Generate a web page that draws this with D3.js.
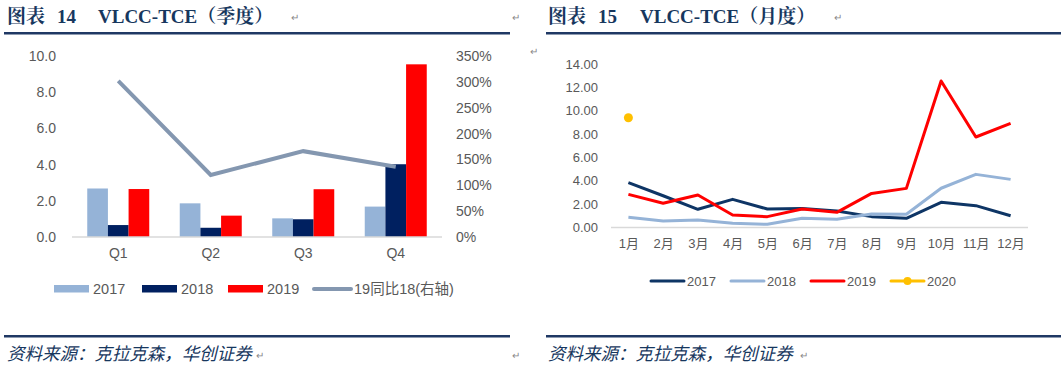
<!DOCTYPE html>
<html><head><meta charset="utf-8">
<script src="https://cdn.jsdelivr.net/npm/d3@7/dist/d3.min.js"></script>
<style>body{margin:0;background:#fff}svg{display:block}</style>
</head><body>
<svg id="c" width="1061" height="369"></svg>
<script>
// ---- Left chart data (quarterly) ----
const quarters = ["Q1","Q2","Q3","Q4"];
const q2017 = [2.68, 1.86, 1.03, 1.68];
const q2018 = [0.66, 0.51, 0.98, 4.02];
const q2019 = [2.65, 1.18, 2.64, 9.54];
const qYoY = [302, 120, 166, 136]; // % right axis
const leftTicks = [0,2,4,6,8,10];
const rightTicks = [0,50,100,150,200,250,300,350];
// ---- Right chart data (monthly) ----
const months = ["1月","2月","3月","4月","5月","6月","7月","8月","9月","10月","11月","12月"];
const m2017 = [3.84, 2.72, 1.56, 2.41, 1.58, 1.62, 1.41, 0.93, 0.79, 2.16, 1.87, 1.01];
const m2018 = [0.87, 0.56, 0.64, 0.36, 0.27, 0.79, 0.70, 1.16, 1.13, 3.36, 4.55, 4.12];
const m2019 = [2.84, 2.07, 2.78, 1.07, 0.93, 1.58, 1.30, 2.92, 3.35, 12.54, 7.75, 8.92];
const m2020 = [9.40];
const monthTicks = [0,2,4,6,8,10,12,14];

const svg = d3.select("#c");
const navy = "#1f3864";
const txt = "#595959";
const sans = "Arial, 'Liberation Sans', 'Noto Sans CJK SC', sans-serif";
const serif = "'Liberation Serif','Noto Serif CJK SC','Noto Sans CJK SC',serif";

// ---- headers / footers ----
function panel(x0, x1, num, sub, tx, nx, vx) {
  const t = svg.append("g").attr("font-family", serif).attr("font-weight", "bold").attr("font-size", 19).attr("fill", "#17375e");
  t.append("text").attr("x", tx).attr("y", 23).text("图表");
  t.append("text").attr("x", nx).attr("y", 23).text(num);
  t.append("text").attr("x", vx).attr("y", 23).attr("textLength", null).text("VLCC-TCE（" + sub + "）");
  svg.append("rect").attr("x", x0).attr("y", 32).attr("width", x1 - x0).attr("height", 2.5).attr("fill", navy);
  svg.append("rect").attr("x", x0).attr("y", 335).attr("width", x1 - x0).attr("height", 2.5).attr("fill", navy);
  svg.append("text").attr("transform", `translate(${tx},360) skewX(-14)`)
    .attr("font-family", "'Noto Sans CJK SC',sans-serif")
    .attr("font-size", 17.5).attr("fill", "#17375e").text("资料来源：克拉克森，华创证券");
}
panel(4, 510, "14", "季度", 7, 57, 98);
panel(546, 1061, "15", "月度", 548, 598, 640);
const marks = [[291,21],[512,21],[834,21],[530,55],[256,359],[512,359],[800,359]];
svg.selectAll("text.ret").data(marks).enter().append("text").attr("class","ret")
  .attr("x", d => d[0]).attr("y", d => d[1]).attr("font-size", 10).attr("fill", "#888")
  .attr("font-family", sans).text("↵");

// ---- Left chart ----
const L = svg.append("g");
const xq = d3.scaleBand().domain(quarters).range([72, 442]).paddingInner(0).paddingOuter(0);
const yl = d3.scaleLinear().domain([0, 10]).range([237, 56]);
const yr = d3.scaleLinear().domain([0, 350]).range([237, 56]);
const series = [{k:"2017", v:q2017, c:"#95b3d7"},{k:"2018", v:q2018, c:"#002060"},{k:"2019", v:q2019, c:"#ff0000"}];
const xs = d3.scaleBand().domain(series.map(s => s.k)).range([0, 62]);
series.forEach(s => {
  L.selectAll(null).data(quarters).enter().append("rect")
    .attr("x", (q) => xq(q) + (xq.bandwidth() - 62) / 2 + xs(s.k))
    .attr("width", xs.bandwidth())
    .attr("y", (q, i) => yl(s.v[i]))
    .attr("height", (q, i) => yl(0) - yl(s.v[i]))
    .attr("fill", s.c);
});
L.append("line").attr("x1", 72).attr("x2", 442).attr("y1", yl(0)).attr("y2", yl(0)).attr("stroke", "#d9d9d9").attr("stroke-width", 1.5);
const axL = d3.axisLeft(yl).tickValues(leftTicks).tickFormat(d3.format(".1f")).tickSize(0).tickPadding(0);
const gL = L.append("g").attr("transform", "translate(56,0)").call(axL);
gL.select(".domain").remove();
gL.selectAll("text").attr("font-family", sans).attr("font-size", 14).attr("fill", txt);
const axR = d3.axisRight(yr).tickValues(rightTicks).tickFormat(d => d + "%").tickSize(0).tickPadding(0);
const gR = L.append("g").attr("transform", "translate(456,0)").call(axR);
gR.select(".domain").remove();
gR.selectAll("text").attr("font-family", sans).attr("font-size", 14).attr("fill", txt);
const axB = d3.axisBottom(xq).tickSize(0).tickPadding(0);
const gB = L.append("g").attr("transform", "translate(0,248)").call(axB);
gB.select(".domain").remove();
gB.selectAll("text").attr("font-family", sans).attr("font-size", 14).attr("fill", txt);
L.append("path").datum(qYoY)
  .attr("d", d3.line().x((d, i) => xq(quarters[i]) + xq.bandwidth() / 2).y(d => yr(d)))
  .attr("fill", "none").attr("stroke", "#8497b0").attr("stroke-width", 4);
// legend left
const legL = [{t:"2017", c:"#95b3d7", x:54, line:false},{t:"2018", c:"#002060", x:142, line:false},{t:"2019", c:"#ff0000", x:228, line:false},{t:"19同比18(右轴)", c:"#8497b0", x:313, line:true}];
legL.forEach(d => {
  if (d.line) L.append("line").attr("x1", d.x + 1).attr("x2", d.x + 38).attr("y1", 289).attr("y2", 289).attr("stroke", d.c).attr("stroke-width", 4).attr("stroke-linecap", "round");
  else L.append("rect").attr("x", d.x).attr("y", 285).attr("width", 35).attr("height", 7.5).attr("fill", d.c);
  L.append("text").attr("x", d.x + (d.line ? 41 : 39)).attr("y", 294).attr("font-family", sans).attr("font-size", 14.5).attr("fill", txt).text(d.t);
});

// ---- Right chart ----
const R = svg.append("g");
const xm = d3.scalePoint().domain(months).range([628.4, 1010.6]);
const ym = d3.scaleLinear().domain([0, 14]).range([227.5, 64]);
R.append("line").attr("x1", 611).attr("x2", 1028).attr("y1", ym(0)).attr("y2", ym(0)).attr("stroke", "#d9d9d9").attr("stroke-width", 1.5);
const axM = d3.axisLeft(ym).tickValues(monthTicks).tickFormat(d3.format(".2f")).tickSize(0).tickPadding(0);
const gM = R.append("g").attr("transform", "translate(598,0)").call(axM);
gM.select(".domain").remove();
gM.selectAll("text").attr("font-family", sans).attr("font-size", 13).attr("fill", txt);
const axMB = d3.axisBottom(xm).tickSize(0).tickPadding(0);
const gMB = R.append("g").attr("transform", "translate(0,239)").call(axMB);
gMB.select(".domain").remove();
gMB.selectAll("text").attr("font-family", sans).attr("font-size", 13).attr("fill", txt);
const mser = [{k:"2017", v:m2017, c:"#0e3565"},{k:"2018", v:m2018, c:"#95b3d7"},{k:"2019", v:m2019, c:"#ff0000"}];
const lineM = d3.line().x((d, i) => xm(months[i])).y(d => ym(d));
mser.forEach(s => {
  R.append("path").datum(s.v).attr("d", lineM).attr("fill", "none").attr("stroke", s.c).attr("stroke-width", 3).attr("stroke-linejoin", "round");
});
R.selectAll(null).data(m2020).enter().append("circle")
  .attr("cx", (d, i) => xm(months[i])).attr("cy", d => ym(d)).attr("r", 4.5).attr("fill", "#ffc000");
const legR = [{t:"2017", c:"#0e3565", x:650},{t:"2018", c:"#95b3d7", x:730},{t:"2019", c:"#ff0000", x:810},{t:"2020", c:"#ffc000", x:890, dot:true}];
legR.forEach(d => {
  R.append("line").attr("x1", d.x + 1).attr("x2", d.x + 34).attr("y1", 281).attr("y2", 281).attr("stroke", d.c).attr("stroke-width", 3).attr("stroke-linecap", "round");
  if (d.dot) R.append("circle").attr("cx", d.x + 17.5).attr("cy", 281).attr("r", 4).attr("fill", d.c);
  R.append("text").attr("x", d.x + 37).attr("y", 286).attr("font-family", sans).attr("font-size", 13).attr("fill", txt).text(d.t);
});
</script>
</body></html>
